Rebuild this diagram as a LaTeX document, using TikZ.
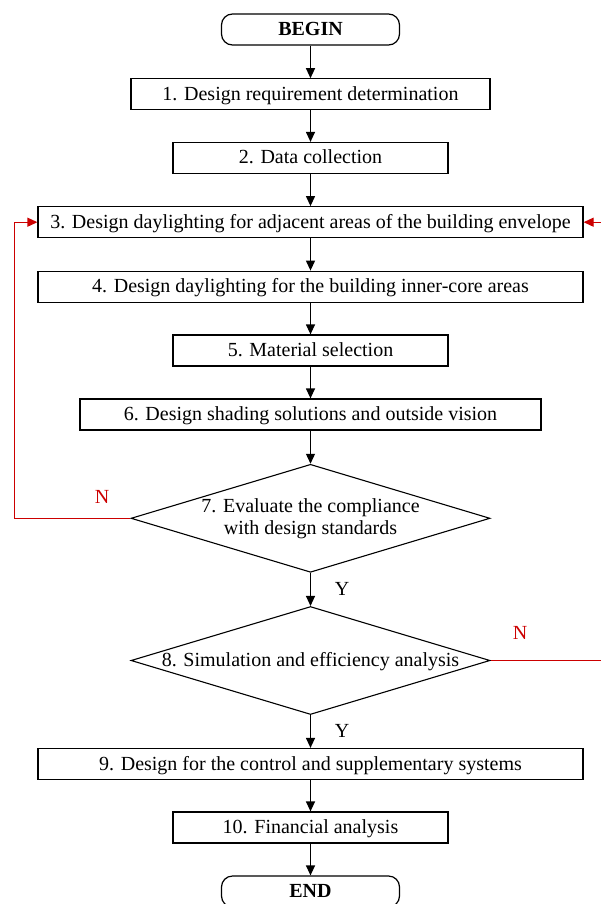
\documentclass[tikz,border=0pt]{standalone}
\usepackage{fontspec}
\setmainfont{Liberation Serif}
\usetikzlibrary{shapes.geometric,arrows.meta}
\definecolor{loopred}{RGB}{204,0,0}
\begin{document}
\begin{tikzpicture}[x=1pt,y=-1pt,
  every node/.style={font=\fontsize{20}{22}\selectfont},
  box/.style={draw=black, line width=1.2pt, minimum height=31pt, inner sep=0pt, text height=16pt, text depth=4pt},
  term/.style={box, rounded corners=11pt, minimum width=178pt, font=\fontsize{20}{22}\selectfont\bfseries},
  dia/.style={draw, diamond, line width=1.1pt, minimum width=359pt, minimum height=108pt, inner sep=0pt},
  flow/.style={-{Triangle[length=10pt,width=9pt]}, line width=1.2pt},
  back/.style={flow, draw=loopred, color=loopred}
]
\useasboundingbox (0,0) rectangle (601,904);
\clip (0,0) rectangle (601,904);

\node[term] (begin) at (310.5,29.5) {BEGIN};
\node[box, minimum width=359pt] (s1) at (310.5,94.3) {1. Design requirement determination};
\node[box, minimum width=275pt] (s2) at (310.5,158) {2. Data collection};
\node[box, minimum width=545pt] (s3) at (310.5,222.2) {3. Design daylighting for adjacent areas of the building envelope};
\node[box, minimum width=545pt] (s4) at (310.5,286.7) {4. Design daylighting for the building inner-core areas};
\node[box, minimum width=275pt] (s5) at (310.5,350.5) {5. Material selection};
\node[box, minimum width=461pt] (s6) at (310.5,414.5) {6. Design shading solutions and outside vision};
\node[dia] (d7) at (310.5,518.3) {};
\node[align=center] (t7) at (d7.center) {7. Evaluate the compliance\\with design standards};
\node[dia] (d8) at (310.5,660.5) {};
\node[text height=16pt, text depth=4pt] (t8) at (d8.center) {8. Simulation and efficiency analysis};
\node[box, minimum width=545pt] (s9) at (310.5,764) {9. Design for the control and supplementary systems};
\node[box, minimum width=275pt] (s10) at (310.5,827.5) {10. Financial analysis};
\node[term] (end) at (310.5,891.5) {END};

\node (y7) at (342,589) {Y};
\node (y8) at (342,731) {Y};
\node[text=loopred] (n7) at (102,497) {N};
\node[text=loopred] (n8) at (520,633) {N};

\draw[flow] (begin) -- (s1);
\draw[flow] (s1) -- (s2);
\draw[flow] (s2) -- (s3);
\draw[flow] (s3) -- (s4);
\draw[flow] (s4) -- (s5);
\draw[flow] (s5) -- (s6);
\draw[flow] (s6) -- (d7);
\draw[flow] (d7) -- (d8);
\draw[flow] (d8) -- (s9);
\draw[flow] (s9) -- (s10);
\draw[flow] (s10) -- (end);

\draw[back] (d7.west) -- ++(-116,0) |- (s3.west);
\draw[back] (d8.east) -- ++(114,0) |- (s3.east);
\end{tikzpicture}
\end{document}
